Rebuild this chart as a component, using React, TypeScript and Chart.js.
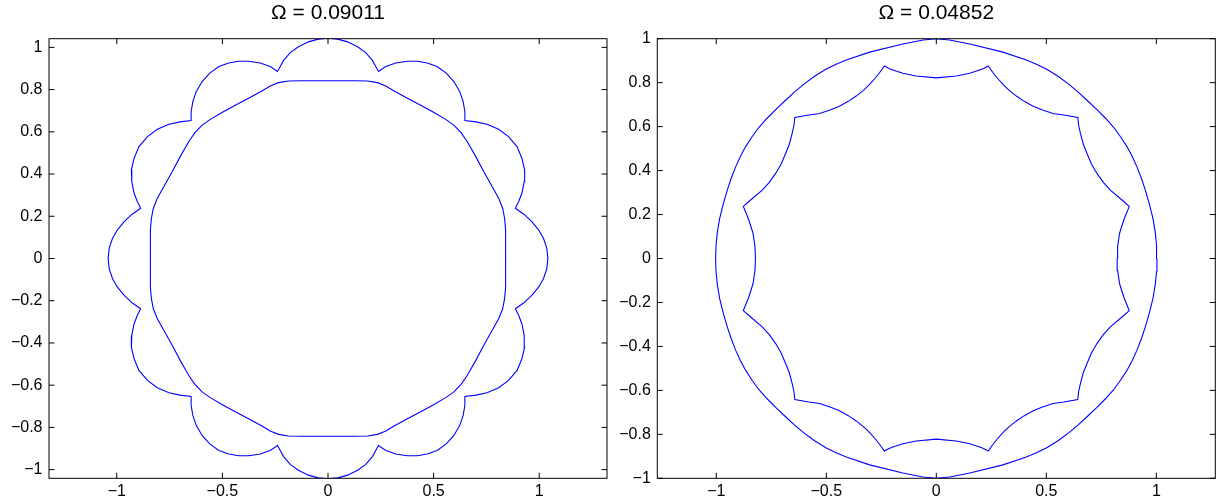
import { useEffect, useRef } from "react";
import { Chart, registerables } from "chart.js";

Chart.register(...registerables);

const FONT = "'Liberation Sans', Arial, Helvetica, sans-serif";

const leftTitle = "Ω = 0.09011";
const rightTitle = "Ω = 0.04852";

const xTicks = [-1, -0.5, 0, 0.5, 1];
const leftYTicks = [-1, -0.8, -0.6, -0.4, -0.2, 0, 0.2, 0.4, 0.6, 0.8, 1];
const rightYTicks = [-1, -0.8, -0.6, -0.4, -0.2, 0, 0.2, 0.4, 0.6, 0.8, 1];

// points, first quadrant only, from the x axis (0°) up to the y axis (90°)
const leftOuterQ1: [number, number][] = [
  [1.041, 0], [1.036, 0.049], [1.02, 0.096], [0.997, 0.136], [0.965, 0.175], [0.926, 0.211], [0.887, 0.238],
  [0.903, 0.27], [0.918, 0.309], [0.929, 0.364], [0.931, 0.42], [0.918, 0.475], [0.895, 0.53], [0.855, 0.577],
  [0.808, 0.612], [0.753, 0.636], [0.701, 0.647], [0.648, 0.653],
  [0.648, 0.696], [0.64, 0.743], [0.624, 0.79], [0.596, 0.838], [0.561, 0.877], [0.517, 0.909], [0.47, 0.926],
  [0.423, 0.934], [0.376, 0.934], [0.321, 0.926], [0.274, 0.909], [0.239, 0.886],
  [0.226, 0.909], [0.211, 0.937], [0.179, 0.975], [0.14, 1.003], [0.093, 1.026], [0.046, 1.039], [0, 1.043],
];

const leftInnerQ1: [number, number][] = [
  [0.841, 0], [0.841, 0.073], [0.841, 0.136], [0.836, 0.191], [0.827, 0.238], [0.808, 0.285], [0.777, 0.341],
  [0.737, 0.412], [0.698, 0.486], [0.659, 0.554], [0.63, 0.596], [0.596, 0.632], [0.557, 0.659], [0.502, 0.691],
  [0.439, 0.726], [0.376, 0.759], [0.313, 0.793], [0.274, 0.817], [0.234, 0.833], [0.187, 0.841], [0.124, 0.842],
  [0, 0.842],
];

const rightOuterQ1: [number, number][] = [
  [1.003, 0], [1.001, 0.06], [0.995, 0.12], [0.985, 0.18], [0.969, 0.245], [0.95, 0.311], [0.932, 0.365],
  [0.912, 0.417], [0.89, 0.465], [0.867, 0.508], [0.838, 0.553], [0.806, 0.597], [0.77, 0.637], [0.73, 0.677],
  [0.685, 0.72], [0.645, 0.757], [0.606, 0.79], [0.555, 0.828], [0.5, 0.862], [0.455, 0.884], [0.409, 0.903],
  [0.303, 0.939], [0.152, 0.976], [0.06, 0.994], [0, 1.0],
];

const rightInnerQ1: [number, number][] = [
  [0.822, 0], [0.824, 0.054], [0.833, 0.115], [0.852, 0.175], [0.877, 0.237],
  [0.844, 0.266], [0.791, 0.311], [0.76, 0.345], [0.73, 0.387], [0.705, 0.43], [0.685, 0.478], [0.668, 0.52],
  [0.655, 0.569], [0.647, 0.605], [0.643, 0.642],
  [0.579, 0.653], [0.53, 0.66], [0.48, 0.677], [0.44, 0.693], [0.4, 0.715], [0.364, 0.739], [0.33, 0.766],
  [0.303, 0.792], [0.278, 0.82], [0.258, 0.845], [0.236, 0.876],
  [0.215, 0.864], [0.197, 0.858], [0.152, 0.843], [0.091, 0.83], [0, 0.822],
];

type Pt = { x: number; y: number };

// close the curve by mirroring the quadrant into the other three
function fullCurve(q: [number, number][]): Pt[] {
  const rev = [...q].reverse();
  return [
    ...q.map(([x, y]) => ({ x, y })),
    ...rev.map(([x, y]) => ({ x: -x, y })),
    ...q.map(([x, y]) => ({ x: -x, y: -y })),
    ...rev.map(([x, y]) => ({ x, y: -y })),
  ];
}

const fmt = (v: number) => {
  const r = Math.round(v * 10) / 10;
  return r === 0 ? "0" : String(r).replace("-", "\u2212");
};

// box round the axes with the ticks pointing inward, as matlab draws them
const framePlugin = {
  id: "matlabFrame",
  afterDraw(chart: any) {
    const { ctx, chartArea: a, scales } = chart;
    const len = 5.5;
    ctx.save();
    ctx.strokeStyle = "#000";
    ctx.lineWidth = 1;
    ctx.strokeRect(a.left, a.top, a.right - a.left, a.bottom - a.top);
    ctx.beginPath();
    scales.x.ticks.forEach((t: any) => {
      const px = scales.x.getPixelForValue(t.value);
      ctx.moveTo(px, a.bottom);
      ctx.lineTo(px, a.bottom - len);
      ctx.moveTo(px, a.top);
      ctx.lineTo(px, a.top + len);
    });
    scales.y.ticks.forEach((t: any) => {
      const py = scales.y.getPixelForValue(t.value);
      ctx.moveTo(a.left, py);
      ctx.lineTo(a.left + len, py);
      ctx.moveTo(a.right, py);
      ctx.lineTo(a.right - len, py);
    });
    ctx.stroke();
    ctx.restore();
  },
};

type PanelProps = {
  left: number;
  title: string;
  outer: [number, number][];
  inner: [number, number][];
  yTicks: number[];
  xMax: number;
  yMax: number;
  axisWidth: number;
  padRight: number;
};

function Panel({ left, title, outer, inner, yTicks, xMax, yMax, axisWidth, padRight }: PanelProps) {
  const canvasRef = useRef<HTMLCanvasElement>(null);

  useEffect(() => {
    if (!canvasRef.current) return;
    const line = { borderColor: "#0000ff", borderWidth: 1.1, pointRadius: 0, showLine: true, fill: false, tension: 0 };
    const chart = new Chart(canvasRef.current, {
      type: "scatter",
      data: {
        datasets: [
          { ...line, data: fullCurve(outer) },
          { ...line, data: fullCurve(inner) },
        ],
      },
      plugins: [framePlugin],
      options: {
        animation: false,
        responsive: true,
        maintainAspectRatio: false,
        layout: { padding: { top: 0, left: 0, bottom: 0, right: padRight } },
        plugins: {
          legend: { display: false },
          tooltip: { enabled: false },
          title: {
            display: true,
            fullSize: false,
            text: title,
            color: "#000",
            font: { family: FONT, size: 21, weight: "normal" },
            padding: { top: 1, bottom: 12.5 },
          },
        },
        scales: {
          x: {
            type: "linear",
            min: -xMax,
            max: xMax,
            grid: { display: false, drawTicks: false },
            border: { display: false },
            afterBuildTicks: (s: any) => {
              s.ticks = xTicks.map((v) => ({ value: v }));
            },
            afterFit: (s: any) => {
              s.height = 25.7;
            },
            ticks: {
              color: "#000",
              padding: 4,
              maxRotation: 0,
              autoSkip: false,
              font: { family: FONT, size: 16 },
              callback: (v: any) => fmt(Number(v)),
            },
          },
          y: {
            type: "linear",
            min: -yMax,
            max: yMax,
            grid: { display: false, drawTicks: false },
            border: { display: false },
            afterBuildTicks: (s: any) => {
              s.ticks = yTicks.map((v) => ({ value: v }));
            },
            afterFit: (s: any) => {
              s.width = axisWidth;
            },
            ticks: {
              color: "#000",
              padding: 6.5,
              autoSkip: false,
              font: { family: FONT, size: 16 },
              callback: (v: any) => fmt(Number(v)),
            },
          },
        },
      },
    });
    return () => chart.destroy();
  }, []);

  return (
    <div style={{ position: "absolute", left, top: 0, width: 613, height: 504 }}>
      <canvas ref={canvasRef} />
    </div>
  );
}

export default function App() {
  return (
    <div style={{ position: "fixed", left: 0, top: 0, width: 1226, height: 504, background: "#fff" }}>
      <Panel
        left={0}
        title={leftTitle}
        outer={leftOuterQ1}
        inner={leftInnerQ1}
        yTicks={leftYTicks}
        xMax={1.321}
        yMax={1.041}
        axisWidth={49}
        padRight={6}
      />
      <Panel
        left={613}
        title={rightTitle}
        outer={rightOuterQ1}
        inner={rightInnerQ1}
        yTicks={rightYTicks}
        xMax={1.268}
        yMax={1.0}
        axisWidth={44.3}
        padRight={10.7}
      />
    </div>
  );
}
